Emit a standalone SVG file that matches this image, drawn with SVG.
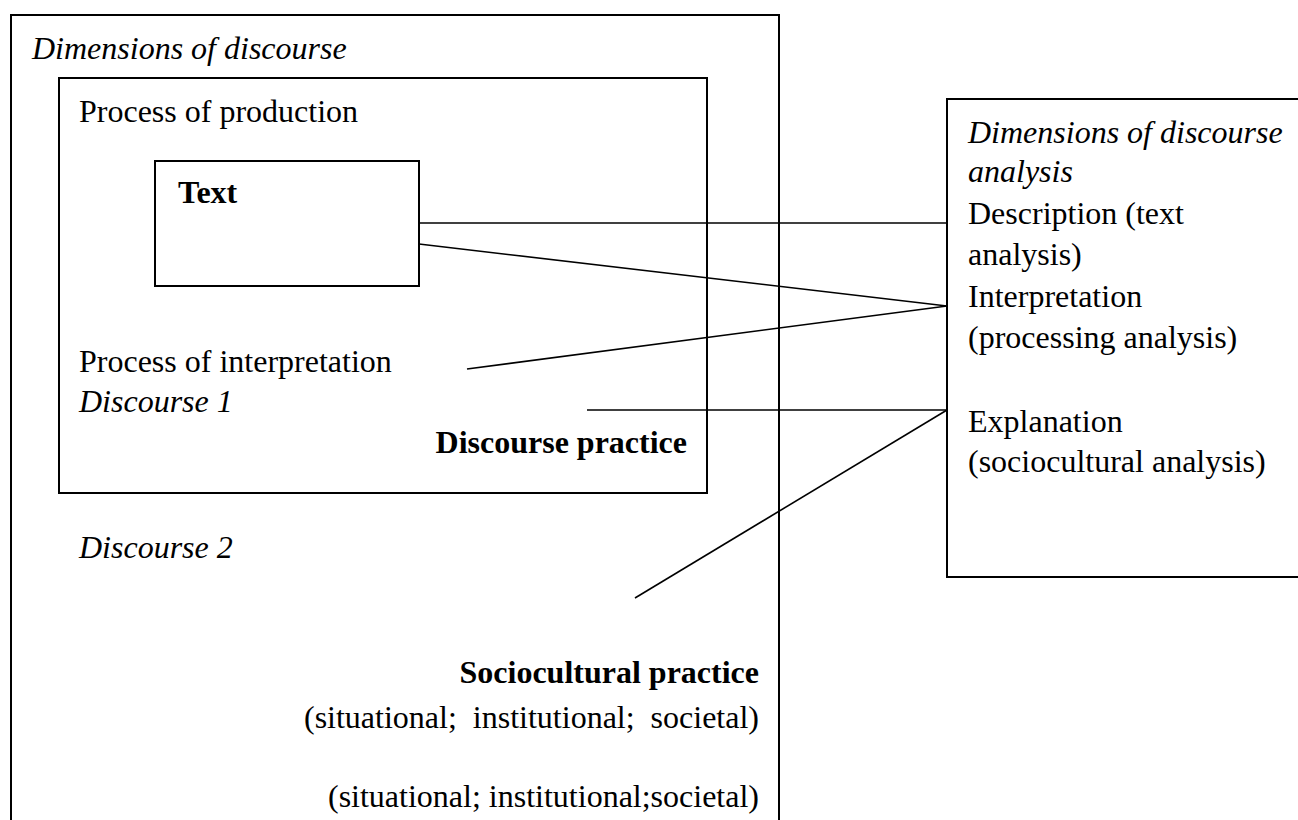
<svg xmlns="http://www.w3.org/2000/svg" width="1298" height="820" viewBox="0 0 1298 820">
<style>
  .box { fill: none; stroke: #000; stroke-width: 2; }
  .ln { stroke: #000; stroke-width: 1.6; fill: none; }
  text { font-family: "Liberation Serif", "Times New Roman", serif; font-size: 32px; fill: #000; }
  .it { font-style: italic; }
  .b { font-weight: bold; }
  .end { text-anchor: end; }
</style>
<rect width="1298" height="820" fill="#fff"/>
<g id="outer">
  <rect class="box" x="11" y="15" width="768" height="830"/>
  <text class="it" x="32" y="59">Dimensions of discourse</text>
  <text class="it" x="79" y="558">Discourse 2</text>
  <text class="b end" x="759" y="683">Sociocultural practice</text>
  <text class="end" x="759" y="728" xml:space="preserve">(situational;  institutional;  societal)</text>
  <text class="end" x="759" y="807">(situational; institutional;societal)</text>
</g>
<g id="discourse-practice">
  <rect class="box" x="59" y="78" width="648" height="415"/>
  <text x="79" y="122">Process of production</text>
  <text x="79" y="372">Process of interpretation</text>
  <text class="it" x="79" y="412">Discourse 1</text>
  <text class="b end" x="687" y="453">Discourse practice</text>
</g>
<g id="text-box">
  <rect class="box" x="155" y="161" width="264" height="125"/>
  <text class="b" x="178" y="203">Text</text>
</g>
<g id="analysis">
  <rect class="box" x="947" y="99" width="400" height="478"/>
  <text class="it" x="968" y="143">Dimensions of discourse</text>
  <text class="it" x="968" y="182">analysis</text>
  <text x="968" y="224">Description (text</text>
  <text x="968" y="265">analysis)</text>
  <text x="968" y="307">Interpretation</text>
  <text x="968" y="348">(processing analysis)</text>
  <text x="968" y="432">Explanation</text>
  <text x="968" y="472">(sociocultural analysis)</text>
</g>
<g id="connectors">
  <line class="ln" x1="419" y1="223" x2="947" y2="223"/>
  <line class="ln" x1="419" y1="244" x2="947" y2="306"/>
  <line class="ln" x1="467" y1="369" x2="947" y2="306"/>
  <line class="ln" x1="587" y1="410" x2="947" y2="410"/>
  <line class="ln" x1="635" y1="598" x2="947" y2="410"/>
</g>
</svg>
